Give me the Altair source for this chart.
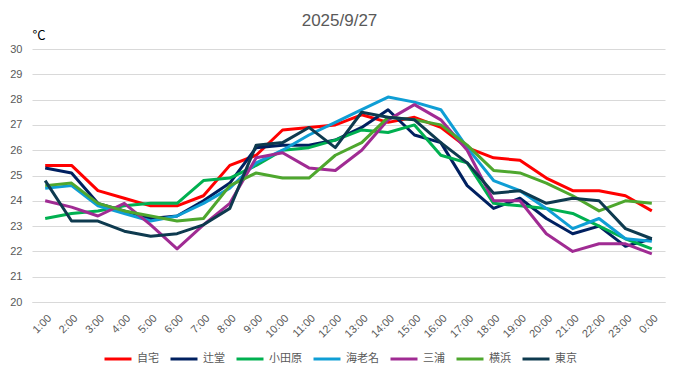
import altair as alt
import pandas as pd

hours = ["1:00", "2:00", "3:00", "4:00", "5:00", "6:00", "7:00", "8:00", "9:00", "10:00",
         "11:00", "12:00", "13:00", "14:00", "15:00", "16:00", "17:00", "18:00", "19:00",
         "20:00", "21:00", "22:00", "23:00", "0:00"]

series_names = ["自宅", "辻堂", "小田原", "海老名", "三浦", "横浜", "東京"]
series_colors = ["#FF0000", "#002060", "#00B050", "#0F9ED5", "#A02B93", "#4EA72E", "#0E3A4F"]

jitaku = [25.4, 25.4, 24.4, 24.1, 23.8, 23.8, 24.2, 25.4, 25.8, 26.8, 26.9, 27.0,
          27.4, 27.1, 27.3, 26.9, 26.1, 25.7, 25.6, 24.9, 24.4, 24.4, 24.2, 23.6]
tsujido = [25.3, 25.1, 23.9, 23.6, 23.3, 23.4, 24.0, 24.7, 26.1, 26.2, 26.2, 26.4,
           26.9, 27.6, 26.6, 26.3, 24.6, 23.7, 24.1, 23.3, 22.7, 23.0, 22.2, 22.5]
odawara = [23.3, 23.5, 23.6, 23.8, 23.9, 23.9, 24.8, 24.9, 25.4, 26.0, 26.1, 26.4,
           26.8, 26.7, 27.0, 25.8, 25.5, 23.9, 23.8, 23.7, 23.5, 23.0, 22.5, 22.1]
ebina = [24.5, 24.6, 23.8, 23.5, 23.2, 23.4, 23.9, 24.5, 25.5, 26.0, 26.6, 27.1,
         27.6, 28.1, 27.9, 27.6, 26.1, 24.8, 24.4, 23.7, 22.9, 23.3, 22.5, 22.4]
miura = [24.0, 23.75, 23.4, 23.9, 23.05, 22.1, 23.05, 23.9, 25.7, 25.9, 25.3, 25.2,
         26.0, 27.2, 27.8, 27.2, 26.0, 24.0, 24.0, 22.7, 22.0, 22.3, 22.3, 21.9]
yokohama = [24.6, 24.7, 23.9, 23.6, 23.4, 23.2, 23.3, 24.6, 25.1, 24.9, 24.9, 25.8,
            26.3, 27.3, 27.2, 27.0, 26.2, 25.2, 25.1, 24.7, 24.2, 23.6, 24.0, 23.9]
tokyo = [24.8, 23.2, 23.2, 22.8, 22.6, 22.7, 23.05, 23.7, 26.2, 26.3, 26.9, 26.1,
         27.5, 27.3, 27.2, 26.3, 25.5, 24.3, 24.4, 23.9, 24.1, 24.0, 22.9, 22.5]

y_ticks = list(range(20, 31))

rows = []
for name, vals in zip(series_names, [jitaku, tsujido, odawara, ebina, miura, yokohama, tokyo]):
    for h, v in zip(hours, vals):
        rows.append({"hour": h, "series": name, "temp": v})
df = pd.DataFrame(rows)

grey = "#595959"

chart = alt.Chart(df).mark_line(strokeWidth=3, strokeJoin="round").encode(
    x=alt.X("hour:N", sort=hours,
            scale=alt.Scale(type="point", padding=0.5),
            axis=alt.Axis(title=None, labelAngle=-45, labelAlign="right", labelBaseline="top",
                          labelPadding=10, ticks=False, domainColor="#D9D9D9", domainWidth=1,
                          labelColor=grey, labelFontSize=11, labelFont="Liberation Sans",
                          grid=False)),
    y=alt.Y("temp:Q", scale=alt.Scale(domain=[20, 30], nice=False, zero=False),
            axis=alt.Axis(values=y_ticks, title="°C", titleAngle=0, titleX=0, titleY=-7,
                          titleAlign="left", titleBaseline="bottom", titleFontSize=13,
                          titleFontWeight="normal", titleColor="#000000",
                          titleFont="Noto Sans CJK JP",
                          domain=False, ticks=False, labelPadding=10, labelColor=grey,
                          labelFontSize=11, labelFont="Liberation Sans",
                          gridColor="#D9D9D9", gridWidth=1)),
    color=alt.Color("series:N",
                    scale=alt.Scale(domain=series_names, range=series_colors),
                    legend=alt.Legend(title=None, orient="none", direction="horizontal",
                                      legendX=71, legendY=295, symbolType="stroke",
                                      symbolSize=729, symbolStrokeWidth=3,
                                      labelFontSize=11, labelColor=grey,
                                      labelFont="Noto Sans CJK JP", labelOffset=4,
                                      columnPadding=5, padding=0)),
).properties(
    width=633, height=253,
    title=alt.TitleParams("2025/9/27", fontSize=17, color=grey, fontWeight="normal",
                          font="Liberation Sans", anchor="middle", dx=-9, offset=14, dy=15),
    autosize=alt.AutoSizeParams(type="none"),
    padding={"left": 24, "top": 41, "right": 8, "bottom": 66},
).configure_view(stroke=None)

chart.save("out.html", embed_options={"renderer": "svg", "actions": False})
